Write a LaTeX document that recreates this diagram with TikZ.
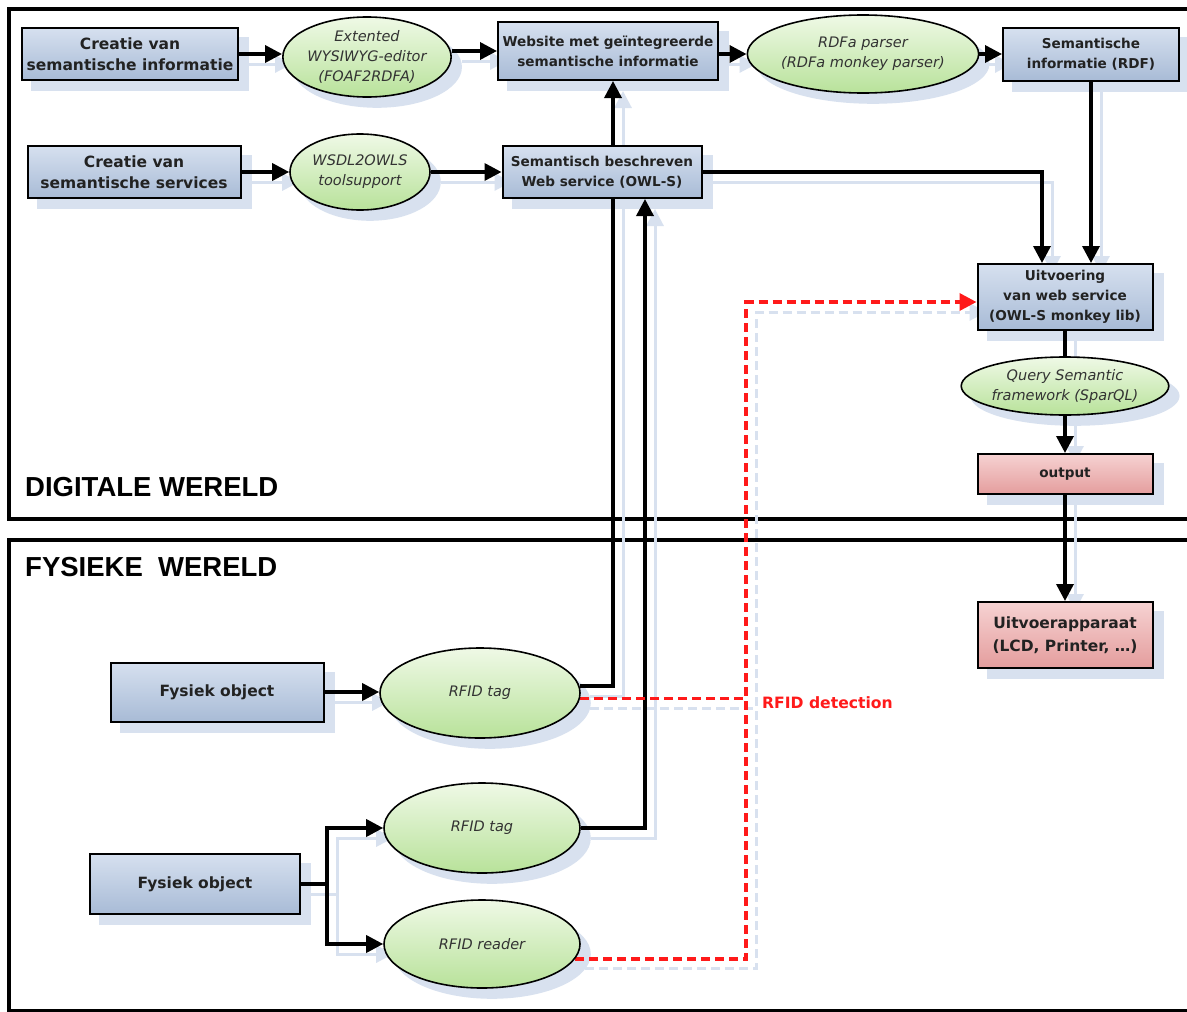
\documentclass[tikz,border=0pt]{standalone}
\usepackage{fontspec}
\setmainfont{DejaVu Sans}
\newfontfamily\headfont{Liberation Sans}
\usetikzlibrary{shapes.geometric,arrows.meta,calc}
\definecolor{boxtop}{HTML}{D6E0EF}
\definecolor{boxbot}{HTML}{A8BBD6}
\definecolor{elltop}{HTML}{EFF9E6}
\definecolor{ellbot}{HTML}{B8E29A}
\definecolor{pinktop}{HTML}{F6D2D2}
\definecolor{pinkbot}{HTML}{E49D9D}
\definecolor{shadowc}{HTML}{D8E1EF}
\definecolor{txt}{HTML}{222222}
\definecolor{ittxt}{HTML}{333333}
\definecolor{redline}{HTML}{FF1A1A}
\pgfdeclarelayer{shadowlayer}
\pgfdeclarelayer{connlayer}
\pgfsetlayers{shadowlayer,connlayer,main}
\tikzset{
  bluebox/.style={rectangle,draw=black,line width=2pt,top color=boxtop,bottom color=boxbot,
    inner sep=0pt,align=center,text=txt,font=\bfseries\fontsize{15.5}{21}\selectfont},
  smallbox/.style={bluebox,font=\bfseries\fontsize{13.6}{20}\selectfont},
  pinkbox/.style={bluebox,top color=pinktop,bottom color=pinkbot},
  greenell/.style={ellipse,draw=black,line width=1.6pt,top color=elltop,bottom color=ellbot,
    inner sep=0pt,align=center,text=ittxt,font=\itshape\fontsize{14.5}{20}\selectfont},
  conn/.style={line width=3.5pt,draw=black,-{Triangle[length=17pt,width=17pt]}},
  connplain/.style={conn,-},
  reddash/.style={line width=3.5pt,draw=redline,dash pattern=on 9pt off 5pt,
    -{Triangle[length=17pt,width=17pt,fill=redline]}},
  shadowmode/.style={
    conn/.style={line width=3pt,draw=shadowc,-{Triangle[length=17pt,width=17pt]}},
    reddash/.style={line width=3pt,draw=shadowc,dash pattern=on 9pt off 5pt,
      -{Triangle[length=17pt,width=17pt]}}},
  heading/.style={anchor=base west,inner sep=0pt,font=\headfont\bfseries\fontsize{27.5}{30}\selectfont},
  frame/.style={draw=black,line width=3.5pt}
}
\newcommand\allconnectors{%
\draw[conn] (A1.east) -- (A1.east -| E1.west);
\draw[conn] (E1.east |- W.west) -- (W.west);
\draw[conn] (W.east |- R.west) -- (R.west);
\draw[conn] (R.east) -- (R.east -| S.west);
\draw[conn] (A2.east) -- (E2.west);
\draw[conn] (E2.east) -- (O.west);
\draw[conn] (O.east) -| ([xshift=-23pt]U.north);
\draw[conn] (S.south) -- (S.south |- U.north);
\draw[connplain] (U.south) -- (Q.north);
\draw[conn] (Q.south) -- (out.north);
\draw[conn] (out.south) -- (Dev.north);
\draw[conn] (F1.east) -- (F1.east -| T1.west);
\draw[conn] (T1.4) -| ([xshift=5pt]W.south);
\draw[conn] (T2.east) -| ([xshift=43pt]O.south);
\draw[conn] (F2.east |- fork) -- (fork) |- (T2.west);
\draw[conn] (fork) |- (T3.west);
\draw[reddash] (T3.-9) -- (T3.-9 -| rj) |- ([yshift=-5pt]U.west);
\draw[reddash,-] (T1.-3.5) -- (T1.-3.5 -| rj);
}
\begin{document}
\begin{tikzpicture}[x=1pt,y=-1pt]
\useasboundingbox (0,0) rectangle (1187,1012);
\begin{pgfonlayer}{shadowlayer}
\fill[white] (0,0) rectangle (1187,1012);
\end{pgfonlayer}
\clip (0,0) rectangle (1187,1012);
% frames
\begin{pgfonlayer}{shadowlayer}
\draw[frame] (9,9) rectangle (1200,519);
\draw[frame] (9,540) rectangle (1200,1011);
\end{pgfonlayer}
\node[heading] (hd) at (25,496) {DIGITALE WERELD};
\node[heading] (hf) at (25,576) {FYSIEKE~\ WERELD};
% top row
\node[bluebox,minimum width=216pt,minimum height=52pt] (A1) at (130,54) {Creatie van\\semantische informatie};
\node[greenell,minimum width=148pt,minimum height=80pt] (E1) at (367,57) {Extented\\WYSIWYG-editor\\(FOAF2RDFA)};
\node[smallbox,minimum width=220pt,minimum height=58pt] (W) at (608,51) {Website met geïntegreerde\\semantische informatie};
\node[greenell,minimum width=182pt,minimum height=78pt] (R) at (863,54) {RDFa parser\\(RDFa monkey parser)};
\node[smallbox,minimum width=176pt,minimum height=53pt] (S) at (1091,54.5) {Semantische\\informatie (RDF)};
% second row
\node[bluebox,minimum width=213pt,minimum height=52pt] (A2) at (134,172) {Creatie van\\semantische services};
\node[greenell,minimum width=140pt,minimum height=76pt] (E2) at (360,172) {WSDL2OWLS\\toolsupport};
\node[smallbox,minimum width=199pt,minimum height=52pt] (O) at (602,172) {Semantisch beschreven\\Web service (OWL-S)};
% right column
\node[smallbox,minimum width=175pt,minimum height=66pt] (U) at (1065,297) {Uitvoering\\van web service\\(OWL-S monkey lib)};
\node[greenell,minimum width=200pt,minimum height=58pt] (Q) at (1065,386) {Query Semantic\\framework (SparQL)};
\node[pinkbox,font=\bfseries\fontsize{13.6}{20}\selectfont,minimum width=175pt,minimum height=40pt] (out) at (1065,474) {output};
\node[pinkbox,font=\bfseries\fontsize{15.5}{23}\selectfont,minimum width=175pt,minimum height=66pt] (Dev) at (1065,635) {Uitvoerapparaat\\(LCD, Printer, \dots)};
% physical world
\node[bluebox,minimum width=213pt,minimum height=59pt] (F1) at (217,692) {Fysiek object};
\node[greenell,minimum width=200pt,minimum height=90pt] (T1) at (480,693) {RFID tag};
\node[greenell,minimum width=196pt,minimum height=90pt] (T2) at (482,828) {RFID tag};
\node[bluebox,minimum width=210pt,minimum height=60pt] (F2) at (195,884) {Fysiek object};
\node[greenell,minimum width=196pt,minimum height=88pt] (T3) at (482,944) {RFID reader};
\node[anchor=west,inner sep=0pt,text=redline,font=\bfseries\fontsize{15.6}{18}\selectfont] (lbl) at (762,703) {RFID detection};
\coordinate (fork) at (327,884);
\coordinate (rj) at (746,0);
% shadows
\begin{pgfonlayer}{shadowlayer}
\foreach \nd in {A1,W,S,A2,O,U,out,Dev,F1,F2}
  \fill[shadowc] ([shift={(10pt,-10pt)}]\nd.south west) rectangle ([shift={(10pt,-10pt)}]\nd.north east);
\foreach \nd in {E1,R,E2,Q,T1,T2,T3}
  \fill[shadowc] let \p1=(\nd.east), \p2=(\nd.north), \p3=(\nd.center) in
    ([shift={(10pt,-10pt)}]\nd.center) ellipse [x radius={\x1-\x3}, y radius={\y2-\y3}];
\begin{scope}[transform canvas={shift={(10pt,-10pt)}},shadowmode]
\allconnectors
\end{scope}
\end{pgfonlayer}
% connectors
\begin{pgfonlayer}{connlayer}
\allconnectors
\end{pgfonlayer}
\end{tikzpicture}
\end{document}
